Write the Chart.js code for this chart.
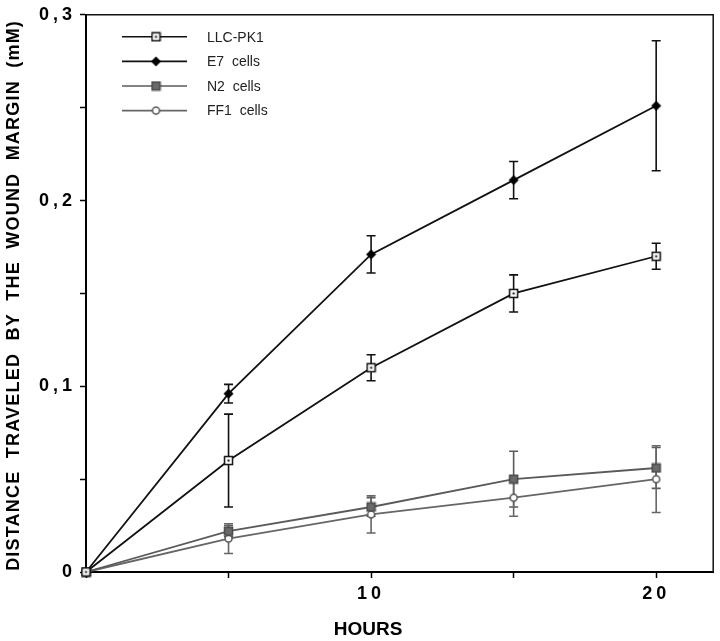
<!DOCTYPE html>
<html>
<head>
<meta charset="utf-8">
<script src="https://cdn.jsdelivr.net/npm/chart.js@4/dist/chart.umd.min.js"></script>
<style>
  html, body { margin: 0; padding: 0; background: #fff; }
</style>
</head>
<body>
<canvas id="chart" width="720" height="641"></canvas>
<script>
// values (hours, mM)
const hours = [0, 5, 10, 15, 20];
const seriesNames = ['LLC-PK1', 'E7  cells', 'N2  cells', 'FF1  cells'];
const llcValues = [0, 0.060, 0.110, 0.150, 0.170];
const llcErrors = [0, 0.025, 0.007, 0.010, 0.007];
const e7Values = [0, 0.096, 0.171, 0.211, 0.251];
const e7Errors = [0, 0.005, 0.010, 0.010, 0.035];
const n2Values = [0, 0.022, 0.035, 0.050, 0.056];
const n2Errors = [0, 0.003, 0.005, 0.015, 0.011];
const ff1Values = [0, 0.018, 0.031, 0.040, 0.050];
const ff1Errors = [0, 0.008, 0.010, 0.010, 0.018];
const xLabelTicks = [10, 20];

const FONT = "'Liberation Sans', Arial, sans-serif";

// small canvases used as point styles (and reused by the legend)
function makeMarker(kind) {
    const c = document.createElement('canvas');
    c.width = 11;
    c.height = 11;
    const g = c.getContext('2d');
    g.lineWidth = 1.5;
    if (kind === 'openSquare') {
        g.fillStyle = '#fff';
        g.strokeStyle = '#111';
        g.fillRect(1.5, 1.5, 8, 8);
        g.strokeRect(1.5, 1.5, 8, 8);
        g.fillStyle = '#111';
        g.fillRect(4.5, 4.5, 2, 2);
    } else if (kind === 'diamond') {
        g.fillStyle = '#000';
        g.beginPath();
        g.moveTo(5.5, 0.5); g.lineTo(10.5, 5.5); g.lineTo(5.5, 10.5); g.lineTo(0.5, 5.5);
        g.closePath();
        g.fill();
    } else if (kind === 'graySquare') {
        g.fillStyle = '#6a6a6a';
        g.strokeStyle = '#4a4a4a';
        g.fillRect(1.5, 1.5, 8, 8);
        g.strokeRect(1.5, 1.5, 8, 8);
    } else {
        g.fillStyle = '#fff';
        g.strokeStyle = '#555';
        g.beginPath();
        g.arc(5.5, 5.5, 3.5, 0, Math.PI * 2);
        g.fill();
        g.stroke();
    }
    return c;
}

function toPoints(values) {
    return hours.map((h, i) => ({ x: h, y: values[i] }));
}

const errorSets = [llcErrors, e7Errors, n2Errors, ff1Errors];

const datasets = [
    { label: seriesNames[0], data: toPoints(llcValues), borderColor: '#111', pointStyle: makeMarker('openSquare') },
    { label: seriesNames[1], data: toPoints(e7Values), borderColor: '#111', pointStyle: makeMarker('diamond') },
    { label: seriesNames[2], data: toPoints(n2Values), borderColor: '#5a5a5a', pointStyle: makeMarker('graySquare') },
    { label: seriesNames[3], data: toPoints(ff1Values), borderColor: '#666', pointStyle: makeMarker('openCircle') }
].map(ds => Object.assign(ds, { borderWidth: 1.8, tension: 0, clip: false, fill: false }));

// tick labels drawn with wide letter spacing like the original
const spacingPlugin = {
    id: 'spacing',
    beforeDraw(chart) { chart.ctx.letterSpacing = '4px'; },
    beforeDatasetsDraw(chart) { chart.ctx.letterSpacing = '0px'; }
};

// frame on top/right and vertical error bars
const errorBarPlugin = {
    id: 'errorBars',
    beforeDatasetsDraw(chart) {
        const ctx = chart.ctx;
        const a = chart.chartArea;
        const yScale = chart.scales.y;
        ctx.save();
        ctx.strokeStyle = '#111';
        ctx.lineWidth = 1.5;
        ctx.beginPath();
        ctx.moveTo(a.left, a.top);
        ctx.lineTo(a.right, a.top);
        ctx.lineTo(a.right, a.bottom);
        ctx.stroke();

        chart.data.datasets.forEach((ds, d) => {
            const meta = chart.getDatasetMeta(d);
            ctx.strokeStyle = ds.borderColor;
            ctx.lineWidth = 1.6;
            meta.data.forEach((pt, i) => {
                const err = errorSets[d][i];
                if (!err) return;
                const v = ds.data[i].y;
                const yTop = yScale.getPixelForValue(v + err);
                const yBot = yScale.getPixelForValue(v - err);
                ctx.beginPath();
                ctx.moveTo(pt.x, yTop); ctx.lineTo(pt.x, yBot);
                ctx.moveTo(pt.x - 4.5, yTop); ctx.lineTo(pt.x + 4.5, yTop);
                ctx.moveTo(pt.x - 4.5, yBot); ctx.lineTo(pt.x + 4.5, yBot);
                ctx.stroke();
            });
        });
        ctx.restore();
    }
};

// axis titles and the legend inside the plot
const labelsPlugin = {
    id: 'labels',
    afterDraw(chart) {
        const ctx = chart.ctx;
        const a = chart.chartArea;
        ctx.save();
        ctx.fillStyle = '#000';
        ctx.textAlign = 'center';
        ctx.textBaseline = 'middle';

        ctx.font = 'bold 19px ' + FONT;
        ctx.fillText('HOURS', chart.scales.x.getPixelForValue(10) - 3, 630);

        ctx.save();
        ctx.translate(14, (a.top + a.bottom) / 2 + 2);
        ctx.rotate(-Math.PI / 2);
        ctx.letterSpacing = '1.2px';
        ctx.font = 'bold 18px ' + FONT;
        ctx.fillText('DISTANCE  TRAVELED  BY  THE  WOUND  MARGIN  (mM)', 0, 0);
        ctx.restore();

        ctx.font = '14px ' + FONT;
        ctx.textAlign = 'left';
        chart.data.datasets.forEach((ds, i) => {
            const y = a.top + 22 + i * 24.6;
            const x0 = a.left + 36;
            ctx.strokeStyle = ds.borderColor;
            ctx.lineWidth = 1.6;
            ctx.beginPath();
            ctx.moveTo(x0, y);
            ctx.lineTo(x0 + 65, y);
            ctx.stroke();
            const img = ds.pointStyle;
            ctx.drawImage(img, x0 + 34 - img.width / 2, y - img.height / 2);
            ctx.fillStyle = '#222';
            ctx.fillText(ds.label, x0 + 85, y + 1);
        });
        ctx.restore();
    }
};

new Chart(document.getElementById('chart'), {
    type: 'line',
    data: { datasets },
    plugins: [spacingPlugin, errorBarPlugin, labelsPlugin],
    options: {
        responsive: false,
        animation: false,
        layout: { padding: { top: 11, right: 5, left: 0, bottom: 0 } },
        plugins: { legend: { display: false }, tooltip: { enabled: false } },
        elements: { point: { radius: 5 } },
        scales: {
            x: {
                type: 'linear',
                min: 0,
                max: 22,
                afterFit(scale) { scale.height = 69; },
                border: { color: '#000', width: 2 },
                grid: { drawOnChartArea: false, drawTicks: true, tickLength: 6, tickColor: '#000', tickWidth: 1.5 },
                ticks: {
                    stepSize: 5,
                    includeBounds: false,
                    maxRotation: 0,
                    autoSkip: false,
                    padding: 5,
                    color: '#000',
                    font: { family: FONT, size: 18, weight: 'bold' },
                    callback: v => xLabelTicks.includes(v) ? String(v) : ''
                }
            },
            y: {
                min: 0,
                max: 0.3,
                afterFit(scale) { scale.width = 86; },
                border: { color: '#000', width: 2 },
                grid: { drawOnChartArea: false, drawTicks: true, tickLength: 6, tickColor: '#000', tickWidth: 1.5 },
                ticks: {
                    stepSize: 0.05,
                    autoSkip: false,
                    padding: 4,
                    color: '#000',
                    font: { family: FONT, size: 18, weight: 'bold' },
                    callback: v => {
                        const hundredths = Math.round(v * 100);
                        if (hundredths % 10 !== 0) return '';
                        return hundredths === 0 ? '0' : (hundredths / 100).toFixed(1).replace('.', ',');
                    }
                }
            }
        }
    }
});
</script>
</body>
</html>
